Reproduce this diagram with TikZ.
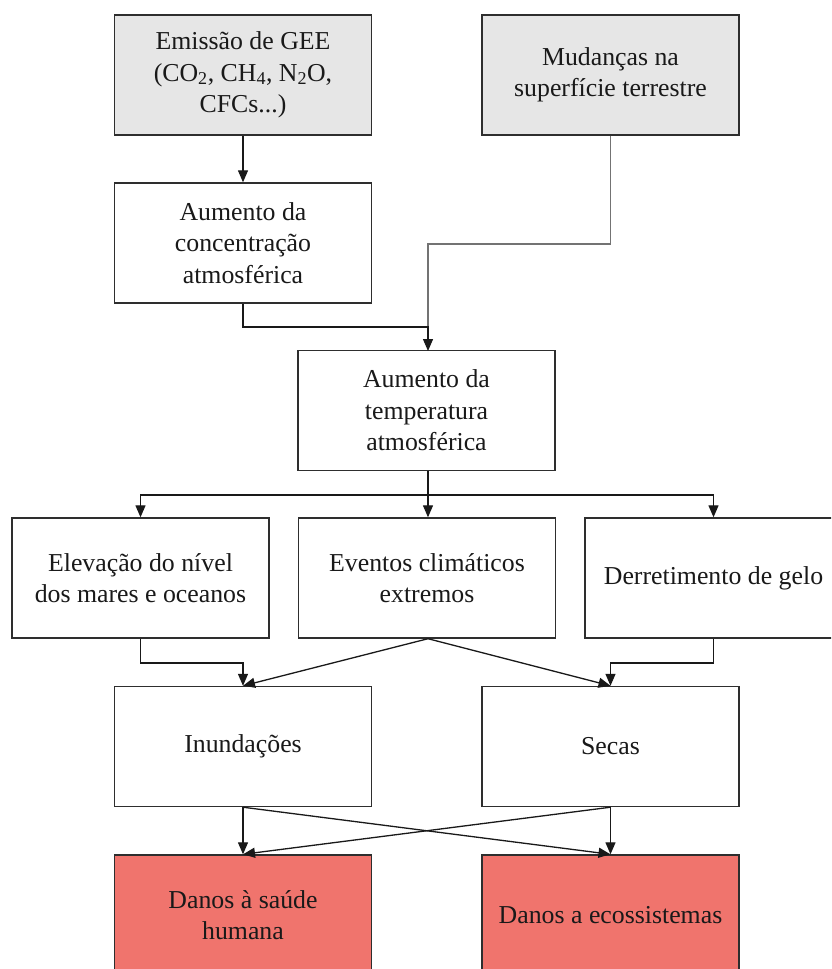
\documentclass[tikz,border=0pt]{standalone}
\usepackage{fontspec}
\setmainfont{Liberation Serif}
\usetikzlibrary{arrows.meta}
\definecolor{boxgray}{HTML}{E6E6E6}
\definecolor{boxred}{HTML}{F0746D}
\definecolor{edge}{HTML}{2E2E2E}
\begin{document}
\begin{tikzpicture}[x=1pt,y=-1pt,
  box/.style={draw=edge,line width=1.4pt,minimum width=257pt,minimum height=120pt,
    inner sep=0pt,align=center,text=black!90,
    font=\fontsize{25.8}{31.5}\selectfont},
  graybox/.style={box,fill=boxgray},
  redbox/.style={box,fill=boxred},
  link/.style={line width=1.3pt,draw=black!90},
  arr/.style={link,-{Triangle[length=12pt,width=10pt]}}]
\clip (0,0) rectangle (831,969);
\fill[white] (0,0) rectangle (831,969);

% sources
\node[graybox] (gee) at (243,75) {Emissão de GEE\\(CO\textsubscript{2}, CH\textsubscript{4}, N\textsubscript{2}O,\\CFCs...)};
\node[graybox] (sup) at (610.5,75) {Mudanças na\\superfície terrestre};
\node[box] (conc) at (243,243) {Aumento da\\concentração\\atmosférica};
\node[box] (temp) at (426.5,410.5) {Aumento da\\temperatura\\atmosférica};

% direct consequences
\node[box] (elev) at (140.5,578) {Elevação do nível\\dos mares e oceanos};
\node[box] (ext) at (427,578) {Eventos climáticos\\extremos};
\node[box] (gelo) at (713.5,578) {Derretimento de gelo};

% hydrological effects
\node[box] (inun) at (243,746.5) {Inundações};
\node[box] (secas) at (610.5,746.5) {Secas};

% damages
\node[redbox] (saude) at (243,915) {Danos à saúde\\humana};
\node[redbox] (eco) at (610.5,915) {Danos a ecossistemas};

% junction points
\coordinate (jtemp) at (428,327);
\coordinate (jsplit) at (428,495);

\draw[arr] (gee.south) -- (conc.north);
\draw[link,draw=black!55] (sup.south) |- (428,244) -- (jtemp);
\draw[arr] (conc.south) |- (jtemp) -- (428,351);

\draw[link] (temp.south -| jsplit) -- (jsplit);
\draw[arr] (jsplit) -| (elev.north);
\draw[arr] (jsplit) -- (ext.north -| jsplit);
\draw[arr] (jsplit) -| (gelo.north);

\draw[arr] (elev.south) |- (243,663) -- (inun.north);
\draw[arr] (ext.south -| jsplit) -- (inun.north);
\draw[arr] (ext.south -| jsplit) -- (secas.north);
\draw[arr] (gelo.south) |- (610.5,663) -- (secas.north);

\draw[arr] (inun.south) -- (saude.north);
\draw[arr] (inun.south) -- (eco.north);
\draw[arr] (secas.south) -- (saude.north);
\draw[arr] (secas.south) -- (eco.north);
\end{tikzpicture}
\end{document}
